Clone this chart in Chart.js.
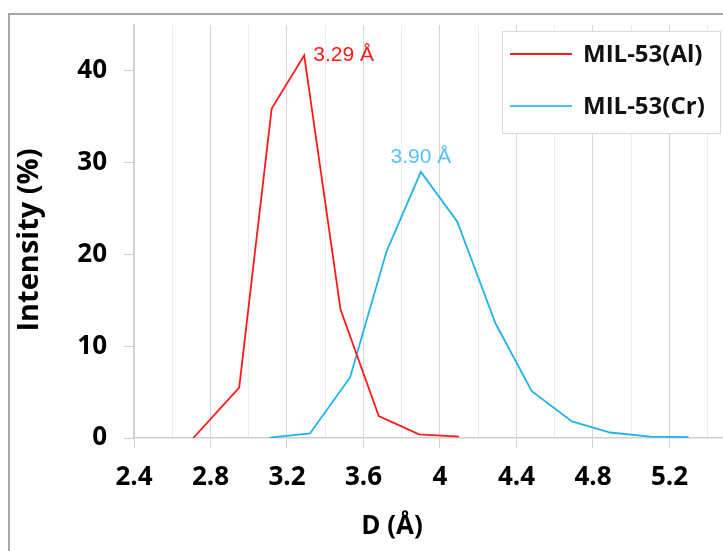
<!DOCTYPE html>
<html lang="en">
<head>
    <meta charset="UTF-8">
    <title>Pore size distribution</title>
    <script src="https://cdn.jsdelivr.net/npm/chart.js"></script>
    <style>
        body { margin: 0; background: #fff; overflow: hidden; }
        #wrap { position: relative; width: 723px; height: 551px; }
    </style>
</head>
<body>
    <div id="wrap">
        <canvas id="psdChart" width="723" height="551"></canvas>
    </div>

    <script>
        // pore diameter D (Å) and intensity (%)
        const alNames = 'MIL-53(Al)';
        const alD = [2.71, 2.95, 3.12, 3.29, 3.48, 3.68, 3.89, 4.10];
        const alI = [0, 5.5, 35.9, 41.7, 14.0, 2.4, 0.4, 0.15];

        const crNames = 'MIL-53(Cr)';
        const crD = [3.11, 3.32, 3.53, 3.72, 3.90, 4.09, 4.29, 4.48, 4.69, 4.89, 5.10, 5.30];
        const crI = [0.05, 0.5, 6.6, 20.3, 29.0, 23.6, 12.5, 5.1, 1.8, 0.6, 0.15, 0.1];

        const xTickLabels = ['2.4', '2.8', '3.2', '3.6', '4', '4.4', '4.8', '5.2'];
        const yTickLabels = ['0', '10', '20', '30', '40'];

        const peakLabels = ['3.29 Å', '3.90 Å'];

        const RED = '#ff1a1a';
        const BLUE = '#1fb3ea';
        const FAMILY = '"Open Sans", Lato, sans-serif';

        function toPoints(xs, ys) {
            return xs.map((x, i) => ({ x: x, y: ys[i] }));
        }

        function isMajor(v) {
            return xTickLabels.indexOf(String(+v.toFixed(1))) !== -1;
        }

        // frame, axis titles, peak labels and the boxed legend
        const extras = {
            id: 'extras',
            beforeDraw(chart) {
                const c = chart.ctx;
                c.save();
                c.fillStyle = '#fff';
                c.fillRect(0, 0, chart.width, chart.height);
                c.strokeStyle = '#a6a6a6';
                c.lineWidth = 2;
                c.beginPath();
                c.moveTo(9, chart.height);
                c.lineTo(9, 14);
                c.lineTo(chart.width, 14);
                c.stroke();
                c.restore();
            },
            afterDraw(chart) {
                const c = chart.ctx;
                const xs = chart.scales.x, ys = chart.scales.y;
                c.save();

                // axis titles
                c.fillStyle = '#000';
                c.textAlign = 'center';
                c.textBaseline = 'middle';
                c.font = 'bold 26px ' + FAMILY;
                c.fillText('D (Å)', 392, 527);
                c.font = 'bold 29px ' + FAMILY;
                c.translate(30, 240);
                c.rotate(-Math.PI / 2);
                c.fillText('Intensity (%)', 0, 0);
                c.setTransform(1, 0, 0, 1, 0, 0);

                // peak labels
                c.font = '21px "Liberation Sans", Arial, sans-serif';
                c.textBaseline = 'alphabetic';
                const pa = alI.indexOf(Math.max(...alI));
                c.fillStyle = RED;
                c.textAlign = 'left';
                c.fillText(peakLabels[0], xs.getPixelForValue(alD[pa]) + 9, ys.getPixelForValue(alI[pa]) + 6);
                const pc = crI.indexOf(Math.max(...crI));
                c.fillStyle = '#55c4f5';
                c.textAlign = 'center';
                c.fillText(peakLabels[1], xs.getPixelForValue(crD[pc]), ys.getPixelForValue(crI[pc]) - 9);

                // legend
                c.fillStyle = '#fff';
                c.fillRect(502, 31, 218, 102);
                c.strokeStyle = '#d9d9d9';
                c.lineWidth = 1;
                c.strokeRect(502.5, 31.5, 218, 102);
                c.font = 'bold 24px ' + FAMILY;
                c.textAlign = 'left';
                c.textBaseline = 'middle';
                chart.data.datasets.forEach((ds, i) => {
                    const y = 54 + i * 52;
                    c.strokeStyle = i === 0 ? RED : '#49c0f5';
                    c.lineWidth = 2;
                    c.beginPath();
                    c.moveTo(510, y);
                    c.lineTo(572, y);
                    c.stroke();
                    c.fillStyle = '#111';
                    c.fillText(ds.label, 583, y + 1);
                });
                c.restore();
            }
        };

        const ctx = document.getElementById('psdChart').getContext('2d');
        const psdChart = new Chart(ctx, {
            type: 'line',
            data: {
                datasets: [
                    {
                        label: alNames,
                        data: toPoints(alD, alI),
                        borderColor: RED,
                        borderWidth: 1.8,
                        pointRadius: 0,
                        tension: 0
                    },
                    {
                        label: crNames,
                        data: toPoints(crD, crI),
                        borderColor: BLUE,
                        borderWidth: 1.8,
                        pointRadius: 0,
                        tension: 0
                    }
                ]
            },
            options: {
                responsive: false,
                animation: false,
                devicePixelRatio: 1,
                layout: { padding: { top: 25, left: 0, right: 0, bottom: 0 } },
                plugins: {
                    legend: { display: false },
                    tooltip: { enabled: false }
                },
                scales: {
                    x: {
                        type: 'linear',
                        min: 2.4,
                        max: 5.48,
                        afterFit(scale) {
                            scale.height = 113;
                            scale.paddingRight = 0;
                        },
                        ticks: {
                            stepSize: 0.2,
                            includeBounds: false,
                            autoSkip: false,
                            maxRotation: 0,
                            padding: 14,
                            color: '#000',
                            font: { family: FAMILY, size: 26, weight: 'bold' },
                            callback: function(v) {
                                return isMajor(v) ? String(+v.toFixed(1)) : '';
                            }
                        },
                        grid: {
                            tickLength: 10,
                            color: ctx => (ctx.tick && isMajor(ctx.tick.value)) ? '#d6d6d6' : '#ececec',
                            tickColor: ctx => (ctx.tick && isMajor(ctx.tick.value)) ? '#cfcfcf' : 'rgba(0,0,0,0)'
                        },
                        border: { color: '#d0d0d0', width: 1.5 }
                    },
                    y: {
                        min: 0,
                        max: 45,
                        afterFit(scale) {
                            scale.width = 134;
                            scale.paddingTop = 0;
                            scale.paddingBottom = 0;
                        },
                        ticks: {
                            stepSize: 10,
                            includeBounds: false,
                            padding: 17,
                            color: '#000',
                            font: { family: FAMILY, size: 26, weight: 'bold' },
                            callback: function(v) {
                                return yTickLabels.indexOf(String(v)) !== -1 ? String(v) : '';
                            }
                        },
                        grid: {
                            drawOnChartArea: false,
                            tickLength: 10,
                            tickColor: '#cfcfcf'
                        },
                        border: { color: '#d0d0d0', width: 1.5 }
                    }
                }
            },
            plugins: [extras]
        });
    </script>
</body>
</html>
